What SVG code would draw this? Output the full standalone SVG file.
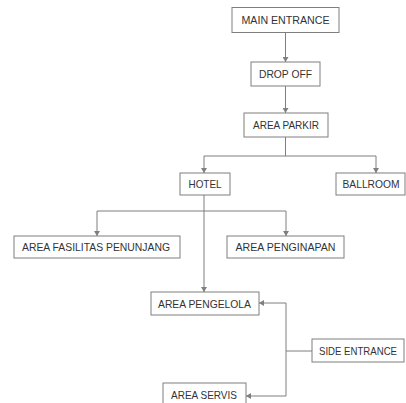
<svg xmlns="http://www.w3.org/2000/svg" width="406" height="403" viewBox="0 0 406 403">
<style>
.box{fill:#fff;stroke:#7f7f7f;stroke-width:1}
.lbl{font-family:"Liberation Sans",Arial,sans-serif;font-size:11px;fill:#333;text-anchor:middle}
.ln{fill:none;stroke:#7f7f7f;stroke-width:1}
</style>
<defs>
<marker id="ah" markerUnits="userSpaceOnUse" markerWidth="6" markerHeight="6" refX="5" refY="3" orient="auto">
<path d="M0,0 L5,3 L0,6 Z" fill="#7f7f7f"/>
</marker>
</defs>
<rect width="406" height="403" fill="#fff"/>
<g id="connectors">
<path class="ln" d="M285.5,32 V62" marker-end="url(#ah)"/>
<path class="ln" d="M285.5,86 V113" marker-end="url(#ah)"/>
<path class="ln" d="M285.5,137 V156 M204,156 H376"/>
<path class="ln" d="M204,156 V173" marker-end="url(#ah)"/>
<path class="ln" d="M376,156 V173" marker-end="url(#ah)"/>
<path class="ln" d="M204,195 V292" marker-end="url(#ah)"/>
<path class="ln" d="M97,211 H286"/>
<path class="ln" d="M97,211 V236" marker-end="url(#ah)"/>
<path class="ln" d="M286,211 V236" marker-end="url(#ah)"/>
<path class="ln" d="M312,351 H286 M286,303 V396"/>
<path class="ln" d="M286,303 H259" marker-end="url(#ah)"/>
<path class="ln" d="M286,396 H246" marker-end="url(#ah)"/>
</g>
<g id="main-entrance"><rect class="box" x="232" y="7.5" width="107" height="25"/><text class="lbl" x="285.5" y="24" textLength="88" lengthAdjust="spacingAndGlyphs">MAIN ENTRANCE</text></g>
<g id="drop-off"><rect class="box" x="251" y="62" width="69" height="24"/><text class="lbl" x="285.5" y="78" textLength="53" lengthAdjust="spacingAndGlyphs">DROP OFF</text></g>
<g id="area-parkir"><rect class="box" x="244" y="113" width="84" height="24"/><text class="lbl" x="286" y="129" textLength="66" lengthAdjust="spacingAndGlyphs">AREA PARKIR</text></g>
<g id="hotel"><rect class="box" x="180" y="173" width="50" height="22"/><text class="lbl" x="205" y="188" textLength="33" lengthAdjust="spacingAndGlyphs">HOTEL</text></g>
<g id="ballroom"><rect class="box" x="336" y="173" width="69" height="22"/><text class="lbl" x="371" y="188" textLength="57" lengthAdjust="spacingAndGlyphs">BALLROOM</text></g>
<g id="area-fasilitas-penunjang"><rect class="box" x="14" y="236" width="166" height="22"/><text class="lbl" x="96" y="251" textLength="148" lengthAdjust="spacingAndGlyphs">AREA FASILITAS PENUNJANG</text></g>
<g id="area-penginapan"><rect class="box" x="227" y="236" width="117" height="22"/><text class="lbl" x="285.5" y="251" textLength="100" lengthAdjust="spacingAndGlyphs">AREA PENGINAPAN</text></g>
<g id="area-pengelola"><rect class="box" x="151" y="292" width="108" height="23"/><text class="lbl" x="204.5" y="307.5" textLength="93" lengthAdjust="spacingAndGlyphs">AREA PENGELOLA</text></g>
<g id="side-entrance"><rect class="box" x="312" y="339" width="92" height="23"/><text class="lbl" x="358" y="354.5" textLength="78" lengthAdjust="spacingAndGlyphs">SIDE ENTRANCE</text></g>
<g id="area-servis"><rect class="box" x="163" y="383" width="83" height="30"/><text class="lbl" x="204" y="399" textLength="66" lengthAdjust="spacingAndGlyphs">AREA SERVIS</text></g>
</svg>
